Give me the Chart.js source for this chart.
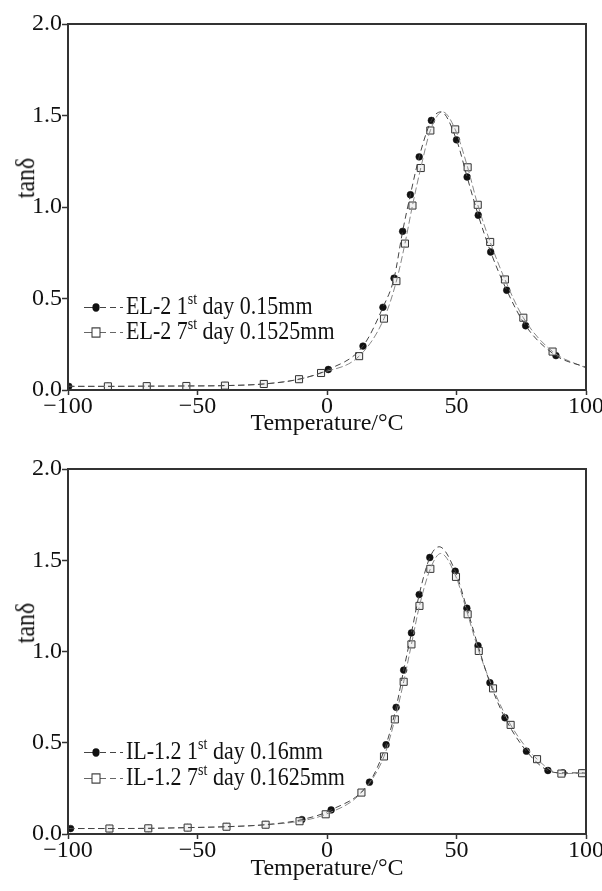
<!DOCTYPE html>
<html>
<head>
<meta charset="utf-8">
<script src="https://cdn.jsdelivr.net/npm/chart.js@4"></script>
<style>
  body { margin: 0; background: #fff; }
  #wrap { position: relative; width: 602px; height: 891px; font-family: "Liberation Serif", serif; color: #111; }
  canvas { position: absolute; left: 0; }
  .ylab { position: absolute; font-size: 24px; white-space: nowrap; transform: translate(-50%, -50%) rotate(-90deg) scaleY(1.1); }
  .leg { position: absolute; left: 84px; font-size: 22px; line-height: 22px; white-space: nowrap; transform-origin: left bottom; transform: scaleY(1.15); }
  .leg svg { vertical-align: baseline; margin-right: 3px; }
  .leg sup { font-size: 14px; line-height: 0; vertical-align: 0; position: relative; top: -9px; }
</style>
</head>
<body>
<div id="wrap">
  <canvas id="top" width="602" height="445" style="top:0"></canvas>
  <canvas id="bottom" width="602" height="446" style="top:445px"></canvas>

  <div class="ylab" style="left:26px; top:178px">tanδ</div>
  <div class="ylab" style="left:26px; top:623px">tanδ</div>

  <div class="leg" style="top:297px">
    <svg width="39" height="12"><line x1="0" y1="6" x2="9" y2="6" stroke="#444" stroke-width="1"/><line x1="16" y1="6" x2="39" y2="6" stroke="#444" stroke-width="1" stroke-dasharray="6,4"/><circle cx="12" cy="6" r="3.6" fill="#111"/></svg>EL-2 1<sup>st</sup> day 0.15mm
  </div>
  <div class="leg" style="top:322px">
    <svg width="39" height="12"><line x1="0" y1="6" x2="8" y2="6" stroke="#666" stroke-width="1"/><line x1="16" y1="6" x2="39" y2="6" stroke="#666" stroke-width="1" stroke-dasharray="6,4"/><rect x="8" y="2" width="8" height="8" fill="#fff" stroke="#333" stroke-width="1"/></svg>EL-2 7<sup>st</sup> day 0.1525mm
  </div>

  <div class="leg" style="top:742px">
    <svg width="39" height="12"><line x1="0" y1="6" x2="9" y2="6" stroke="#444" stroke-width="1"/><line x1="16" y1="6" x2="39" y2="6" stroke="#444" stroke-width="1" stroke-dasharray="6,4"/><circle cx="12" cy="6" r="3.6" fill="#111"/></svg>IL-1.2 1<sup>st</sup> day 0.16mm
  </div>
  <div class="leg" style="top:768px">
    <svg width="39" height="12"><line x1="0" y1="6" x2="8" y2="6" stroke="#666" stroke-width="1"/><line x1="16" y1="6" x2="39" y2="6" stroke="#666" stroke-width="1" stroke-dasharray="6,4"/><rect x="8" y="2" width="8" height="8" fill="#fff" stroke="#333" stroke-width="1"/></svg>IL-1.2 7<sup>st</sup> day 0.1625mm
  </div>
</div>

<script>
// axis ticks
const tempTicks = [-100, -50, 0, 50, 100];
const tanTicks = [0.0, 0.5, 1.0, 1.5, 2.0];

// EL-2, 1st day (filled circles)
const el1Temp = [-99.7, -84.6, -69.6, -54.3, -39.4, -24.4, -10.8, 0.5, 13.9, 21.6, 25.9, 29.2, 32.2, 35.6, 40.3, 50.0, 54.1, 58.4, 63.2, 69.4, 76.7, 88.4];
const el1Tan = [0.02, 0.02, 0.021, 0.022, 0.024, 0.033, 0.059, 0.112, 0.24, 0.452, 0.611, 0.867, 1.067, 1.274, 1.473, 1.367, 1.164, 0.955, 0.754, 0.545, 0.351, 0.188];
// curve points without a marker (start, peak, end)
const el1CurveTemp = [-100, 44.0, 100];
const el1CurveTan = [0.02, 1.52, 0.124];

// EL-2, 7st day (open squares)
const el2Temp = [-84.6, -69.6, -54.3, -39.4, -24.4, -10.8, -2.3, 12.4, 22.0, 26.8, 30.1, 33.0, 36.2, 39.9, 49.5, 54.3, 58.2, 63.0, 68.7, 75.8, 87.1];
const el2Tan = [0.02, 0.021, 0.022, 0.024, 0.033, 0.059, 0.093, 0.185, 0.39, 0.595, 0.8, 1.008, 1.213, 1.418, 1.424, 1.217, 1.012, 0.809, 0.604, 0.395, 0.21];
const el2CurveTemp = [-100, 44.6, 100];
const el2CurveTan = [0.02, 1.52, 0.12];

// IL-1.2, 1st day (filled circles)
const il1Temp = [-99, -84, -69, -53.8, -38.8, -23.7, -9.7, 1.6, 16.4, 22.8, 26.7, 29.6, 32.6, 35.6, 39.7, 49.5, 54.0, 58.3, 62.9, 68.7, 77.0, 85.3, 91.1, 98.5];
const il1Tan = [0.03, 0.03, 0.031, 0.035, 0.04, 0.051, 0.079, 0.132, 0.284, 0.489, 0.694, 0.898, 1.102, 1.312, 1.515, 1.44, 1.237, 1.032, 0.829, 0.637, 0.454, 0.348, 0.335, 0.335];
const il1CurveTemp = [-100, 43.3, 100];
const il1CurveTan = [0.03, 1.574, 0.333];

// IL-1.2, 7st day (open squares)
const il2Temp = [-84, -69, -53.8, -38.8, -23.7, -10.6, -0.5, 13.3, 22.0, 26.2, 29.6, 32.6, 35.7, 39.9, 49.8, 54.3, 58.6, 64.1, 70.9, 81.1, 90.5, 98.5];
const il2Tan = [0.03, 0.031, 0.035, 0.04, 0.051, 0.07, 0.108, 0.227, 0.425, 0.628, 0.834, 1.039, 1.25, 1.453, 1.409, 1.204, 1.003, 0.798, 0.598, 0.41, 0.331, 0.333];
const il2CurveTemp = [-100, 43.9, 100];
const il2CurveTan = [0.03, 1.537, 0.325];


function toPoints(xs, ys) {
    return xs.map((x, i) => ({x: x, y: ys[i]}));
}

// markers + the extra curve points, sorted by temperature
function curvePoints(xs, ys, cx, cy) {
    return toPoints(xs, ys).concat(toPoints(cx, cy)).sort((a, b) => a.x - b.x);
}

// box around the plot area
const framePlugin = {
    id: 'frame',
    afterDraw(chart) {
        const a = chart.chartArea;
        const ctx = chart.ctx;
        ctx.save();
        ctx.strokeStyle = '#333';
        ctx.lineWidth = 2;
        ctx.strokeRect(a.left, a.top, a.right - a.left, a.bottom - a.top);
        ctx.restore();
    }
};

function makeChart(id, s1, s2, xHeight, titlePad) {
    const font = {family: 'Liberation Serif', size: 24};
    const ctx = document.getElementById(id).getContext('2d');
    return new Chart(ctx, {
        type: 'scatter',
        data: {
            datasets: [
                {   // curve of the circles
                    type: 'line',
                    data: curvePoints(s1.t, s1.v, s1.ct, s1.cv),
                    borderColor: '#444',
                    borderWidth: 1,
                    borderDash: [6, 4],
                    pointRadius: 0,
                    fill: false,
                    cubicInterpolationMode: 'monotone'
                },
                {   // curve of the squares
                    type: 'line',
                    data: curvePoints(s2.t, s2.v, s2.ct, s2.cv),
                    borderColor: '#888',
                    borderWidth: 1,
                    borderDash: [7, 3],
                    pointRadius: 0,
                    fill: false,
                    cubicInterpolationMode: 'monotone'
                },
                {
                    data: toPoints(s2.t, s2.v),
                    pointStyle: 'rect',
                    pointRadius: 5,
                    backgroundColor: '#f2f2f2',
                    borderColor: '#333',
                    borderWidth: 1,
                    showLine: false
                },
                {
                    data: toPoints(s1.t, s1.v),
                    pointStyle: 'circle',
                    pointRadius: 3.4,
                    backgroundColor: '#111',
                    borderColor: '#111',
                    borderWidth: 0.5,
                    showLine: false
                }
            ]
        },
        options: {
            responsive: false,
            animation: false,
            devicePixelRatio: 1,
            layout: {padding: {left: 0, right: 16, top: 24, bottom: 0}},
            plugins: {
                legend: {display: false},
                tooltip: {enabled: false}
            },
            scales: {
                x: {
                    type: 'linear',
                    min: tempTicks[0],
                    max: tempTicks[tempTicks.length - 1],
                    afterBuildTicks: (scale) => { scale.ticks = tempTicks.map(v => ({value: v})); },
                    afterFit: (scale) => { scale.height = xHeight; scale.paddingLeft = 0; scale.paddingRight = 0; },
                    ticks: {
                        font: font,
                        color: '#111',
                        padding: -3,
                        maxRotation: 0,
                        callback: (v) => String(v).replace('-', '\u2212')
                    },
                    grid: {drawOnChartArea: false, drawTicks: true, tickLength: 5, tickColor: '#333', tickWidth: 1.5},
                    border: {display: true, color: '#333', width: 2},
                    title: {display: true, text: 'Temperature/°C', font: font, color: '#111', padding: {top: 0, bottom: titlePad}}
                },
                y: {
                    type: 'linear',
                    min: tanTicks[0],
                    max: tanTicks[tanTicks.length - 1],
                    afterBuildTicks: (scale) => { scale.ticks = tanTicks.map(v => ({value: v})); },
                    afterFit: (scale) => { scale.width = 68; scale.paddingTop = 0; scale.paddingBottom = 0; },
                    ticks: {
                        font: font,
                        color: '#111',
                        padding: 0,
                        callback: (v) => Number(v).toFixed(1)
                    },
                    grid: {drawOnChartArea: false, drawTicks: true, tickLength: 6, tickColor: '#333', tickWidth: 1.5},
                    border: {display: true, color: '#333', width: 2}
                }
            }
        },
        plugins: [framePlugin]
    });
}

makeChart('top',
    {t: el1Temp, v: el1Tan, ct: el1CurveTemp, cv: el1CurveTan},
    {t: el2Temp, v: el2Tan, ct: el2CurveTemp, cv: el2CurveTan},
    55, 7);

makeChart('bottom',
    {t: il1Temp, v: il1Tan, ct: il1CurveTemp, cv: il1CurveTan},
    {t: il2Temp, v: il2Tan, ct: il2CurveTemp, cv: il2CurveTan},
    57, 8);
</script>
</body>
</html>
